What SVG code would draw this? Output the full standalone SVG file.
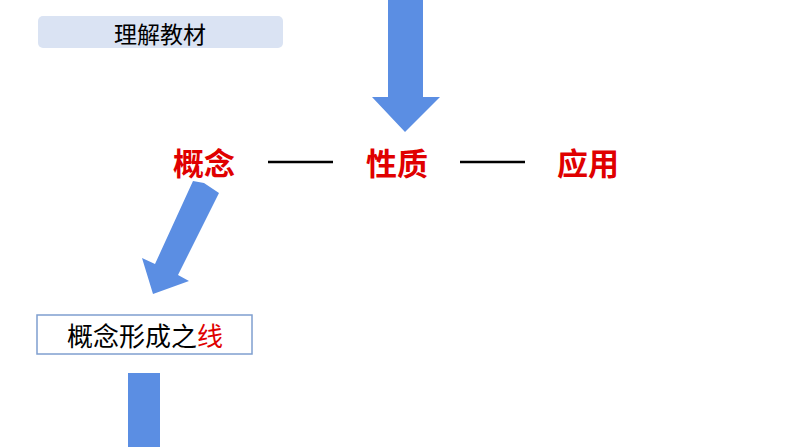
<svg xmlns="http://www.w3.org/2000/svg" width="794" height="447" viewBox="0 0 794 447">
<style>
.cjk{font-family:"Noto Sans CJK SC","Noto Sans CJK JP",sans-serif}
.red{fill:#e00000}
.arrow{fill:#5b8ee3}
.dash{stroke:#000;stroke-width:2.5}
</style>
<rect width="794" height="447" fill="#fff"/>
<g id="title">
<rect x="38" y="16" width="245" height="32" rx="5" fill="#dae3f3"/>
<text x="160" y="43" text-anchor="middle" font-size="23" class="cjk" fill="#000">理解教材</text>
</g>
<g id="concept"><text x="204" y="175" text-anchor="middle" font-size="31" font-weight="bold" class="cjk red">概念</text></g>
<g id="property"><text x="397" y="175" text-anchor="middle" font-size="31" font-weight="bold" class="cjk red">性质</text></g>
<g id="application"><text x="588" y="175" text-anchor="middle" font-size="31" font-weight="bold" class="cjk red">应用</text></g>
<g id="formation">
<rect x="37" y="315" width="215" height="39" fill="#fff" stroke="#7f9fcf" stroke-width="1.5"/>
<text x="145" y="346" text-anchor="middle" font-size="26" class="cjk" fill="#000">概念形成之<tspan class="red">线</tspan></text>
</g>
<g id="connectors">
<line class="dash" x1="268" y1="162" x2="333" y2="162"/>
<line class="dash" x1="460" y1="162" x2="525" y2="162"/>
<polygon class="arrow" points="388,0 423,0 423,97 440,97 405,132 372,97 388,97"/>
<polygon class="arrow" points="204,183 219,193 178,275 189,281 153,294 142,258 155,264 193,181"/>
<rect class="arrow" x="128" y="373" width="32" height="74"/>
</g>
</svg>
